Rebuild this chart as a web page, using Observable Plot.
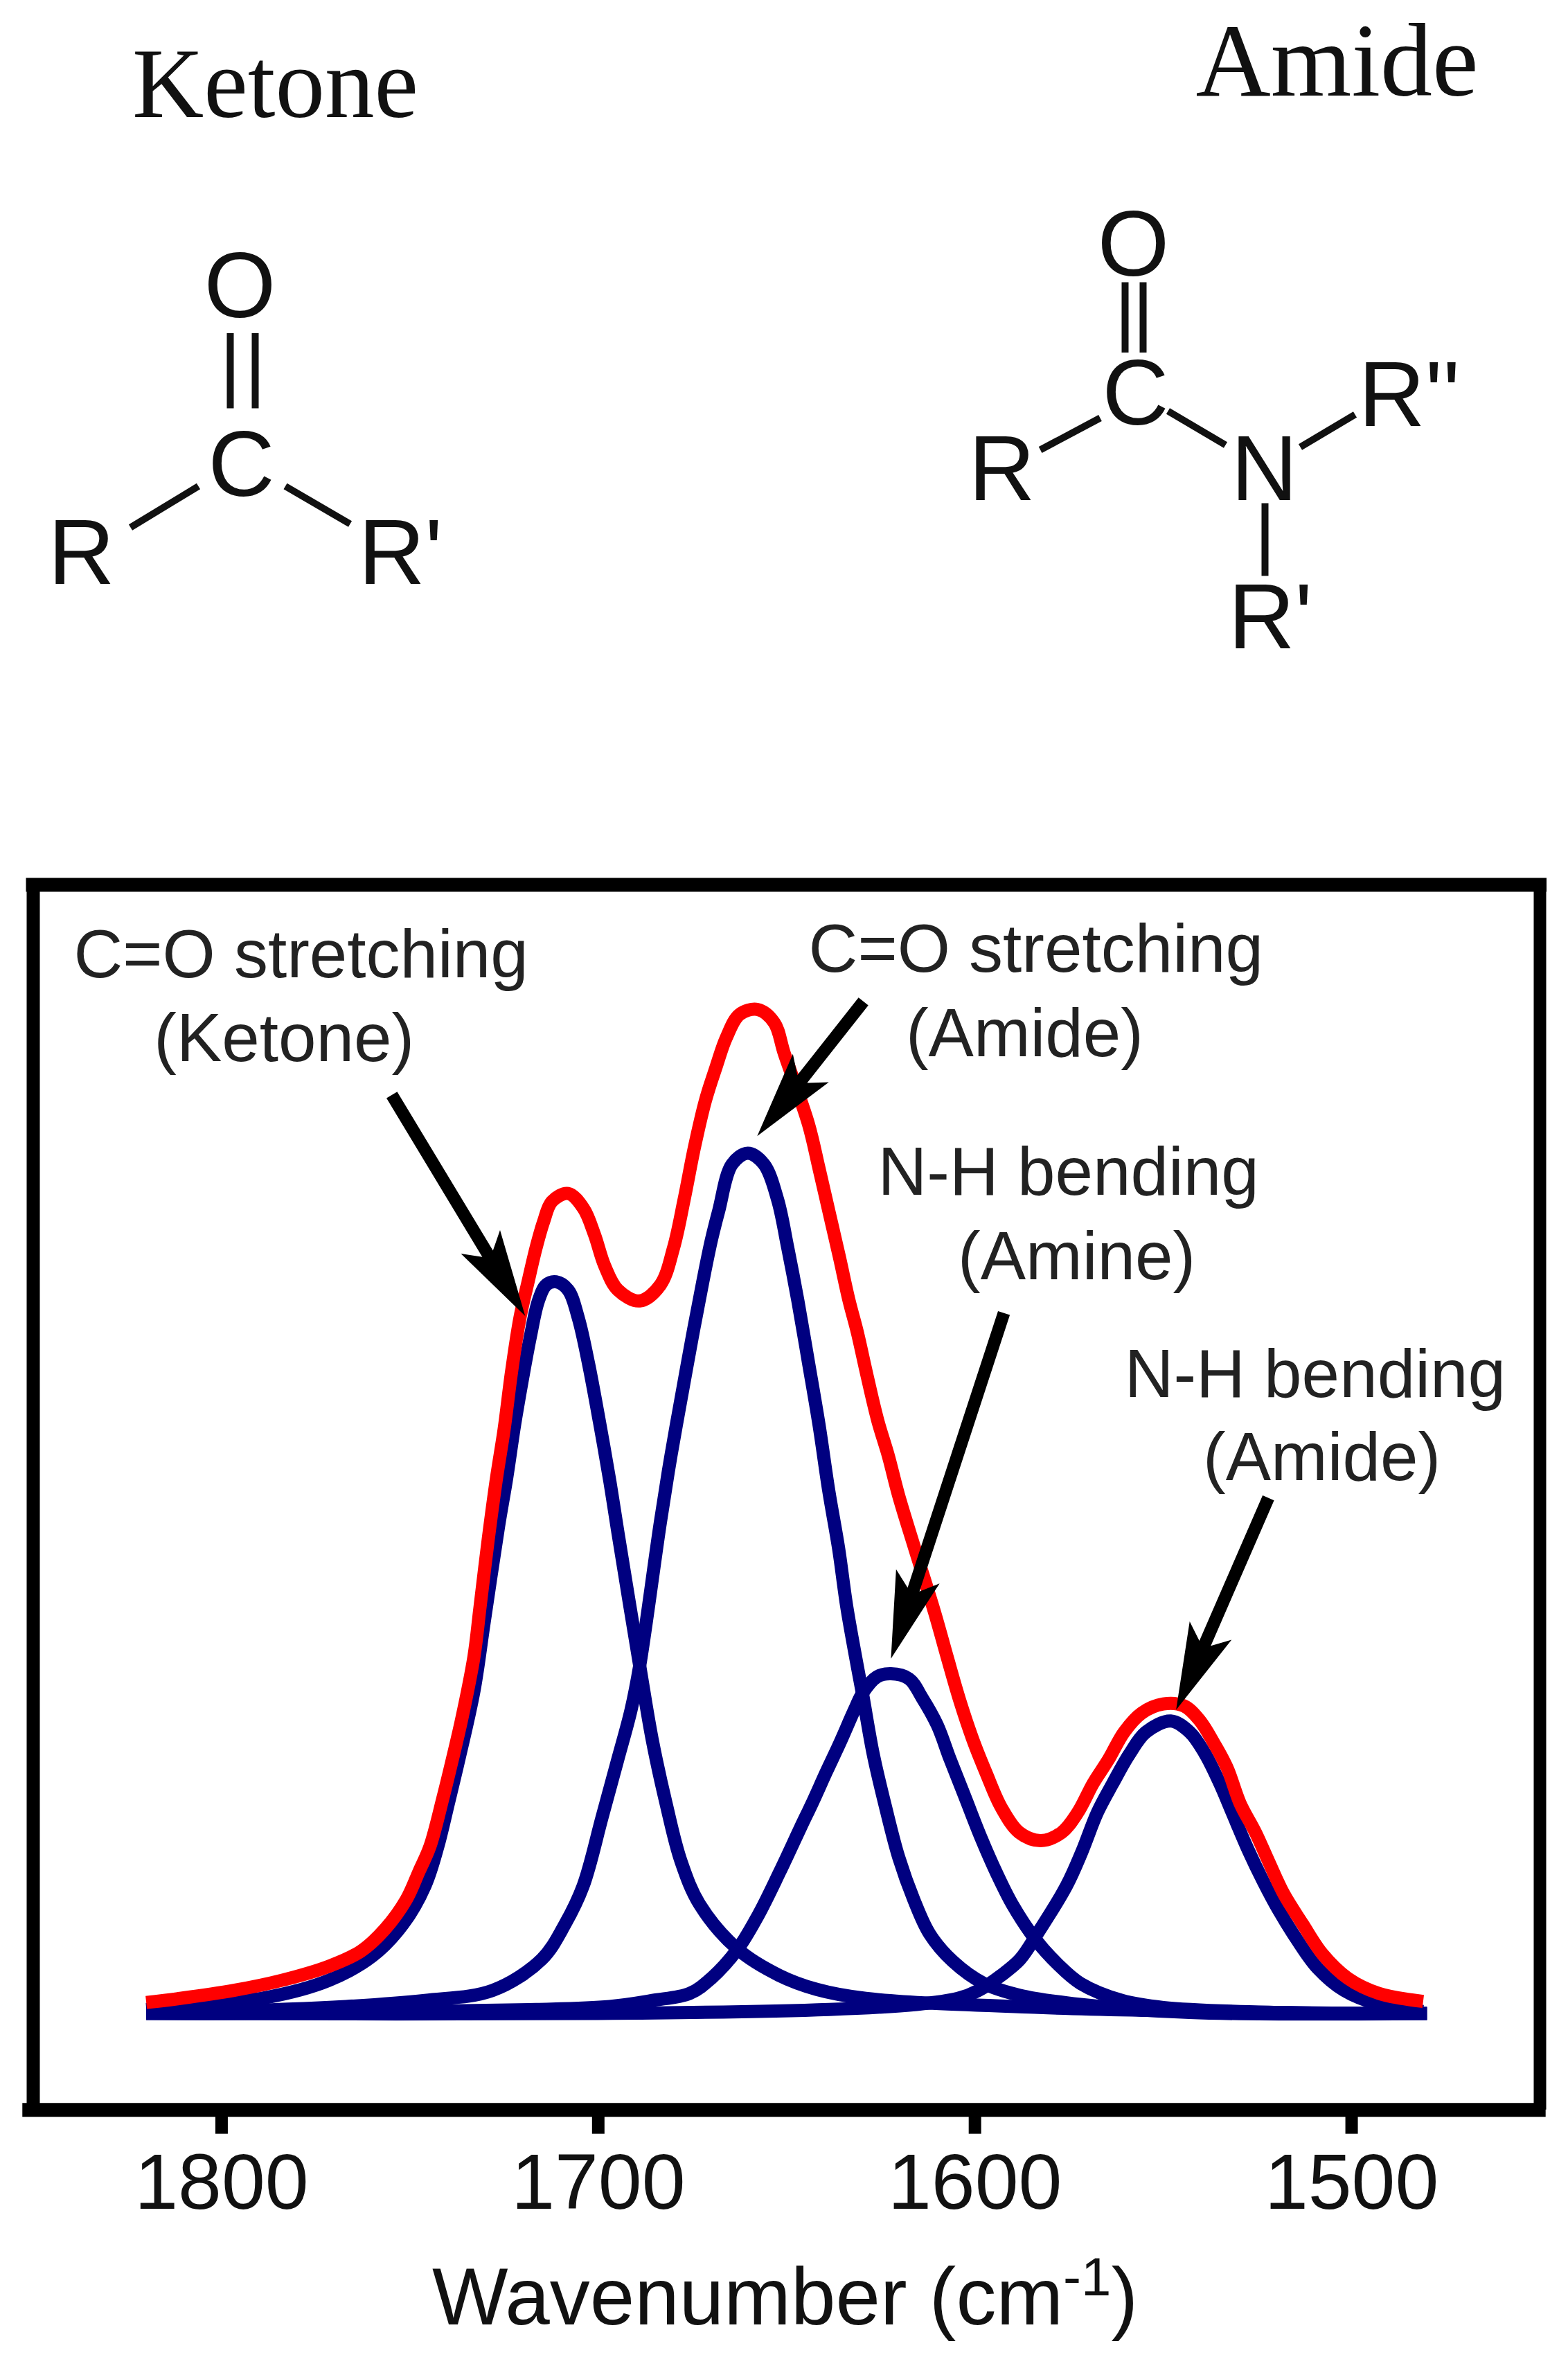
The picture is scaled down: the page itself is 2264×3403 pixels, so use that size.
<!DOCTYPE html>
<html>
<head>
<meta charset="utf-8">
<script src="https://cdn.jsdelivr.net/npm/d3@7"></script>
<script src="https://cdn.jsdelivr.net/npm/@observablehq/plot@0.6"></script>
<style>
html,body{margin:0;padding:0;background:#fff}
svg{display:block}
</style>
</head>
<body>
<div id="top"></div>
<div id="chart"></div>
<script>
// ---------- spectrum data: wavenumber (cm-1) and absorbance (a.u.) ----------
const ketoneWn  = [1820,1788,1771.5,1760,1751.8,1746,1742.6,1739.8,1737,1733,1730.3,1726.5,1724.3,1722.2,1720,1718,1715.9,1713.8,1711.2,1708,1705.3,1702.6,1699.7,1696.9,1694.8,1689,1685.7,1682,1678,1673,1663,1652,1642,1629,1583,1520,1480];
const ketoneAbs = [0.5,1.7,3.4,5.8,9,12.8,16.7,21,25.4,32.2,39,48.5,53.4,58.7,63.5,67.5,71,72.6,72.9,72.1,69.3,64.8,59,53,48,34.7,27.4,21,15.2,10.9,6.5,3.9,2.5,1.6,0.7,0.2,0.1];

const amideCOWn  = [1820,1802,1767,1746,1728,1715,1708.8,1704,1699,1694.8,1691.3,1689,1683.5,1680.7,1678,1675,1672.2,1670,1668,1664.5,1660.3,1656,1652.4,1649.7,1647,1644.2,1641.4,1638.8,1636.2,1634,1631.2,1629.8,1627,1623.7,1620.2,1616.2,1612,1605.9,1597.7,1588,1572,1543,1480];
const amideCOAbs = [0.2,0.3,0.8,1.4,2.4,5.5,9,12.8,19.6,25.4,30.3,34.7,49,55.6,61.3,67.5,73,77,80,84.6,85.7,84.6,81.1,76.3,71,64.9,58.7,52.1,46.4,40.5,34.6,31.8,25.9,20.6,15.6,11.4,8,5.3,3.1,1.9,1,0.2,0.1];

const amineWn  = [1820,1800,1716.5,1697,1685.6,1675.7,1670,1663,1657.5,1651.8,1646.3,1643,1639.5,1636,1632,1629.8,1626,1622.3,1617.5,1614,1610,1606.6,1602.6,1598.4,1594.3,1590,1584,1578,1572,1561,1550,1520,1480];
const amineAbs = [0.1,0.1,0.5,0.8,1.4,2.1,3.6,6.5,9.9,14.2,18.6,21.2,24.1,26.9,30.3,32,33.6,33.9,33.4,31.5,28.8,25.4,21.6,17.6,14.1,10.9,7.5,5,3.1,1.4,0.7,0.2,0.1];

const amideNHWn  = [1820,1700,1638.7,1615.5,1604.5,1599,1593,1588,1583.5,1575.7,1571.6,1567.5,1563.4,1559,1554.6,1548,1543,1539,1535,1531.6,1527.5,1523.4,1519.4,1514.6,1509,1502,1492.8,1481];
const amideNHAbs = [0.1,0.1,0.5,1,1.6,2.4,3.9,5.5,8,12.8,16.2,20.1,23,25.9,28.1,29.2,28.1,26,23,20,16.4,13.2,10.4,7.5,4.6,2.4,1,0.3];

const totalWn  = [1820,1811,1796.7,1784,1771.5,1763,1756.6,1751,1747.5,1744.7,1741.2,1738.4,1736.3,1733,1731.4,1729.2,1727,1725,1723,1720.8,1718.7,1716.5,1714.5,1712.3,1708,1703.9,1701,1698.3,1694.8,1689,1683.5,1680,1677.2,1674.4,1671.5,1668.7,1666,1662.5,1657.7,1653.3,1650.6,1644.2,1641.4,1638.7,1636,1633.4,1631.3,1628.6,1625.8,1623,1620.3,1616,1610.7,1607.4,1604,1600.6,1597,1593,1588.2,1582.6,1577,1572.7,1568.6,1564.5,1560.4,1555.7,1550,1544.5,1540.4,1536.4,1533,1529.6,1525.5,1522,1518,1513,1507.7,1501,1492.8,1481];
const totalAbs = [1.2,1.6,2.4,3.4,4.8,6.3,8.5,11.4,14.3,16.7,21.6,25.9,29.3,35.6,40.5,47.3,53.4,58.2,64,69.3,72.8,76.3,78.9,80.9,81.7,80.2,77.6,74.5,72.1,71,72.6,76.3,81.1,86.4,91,94.3,97.2,99.5,100,98.7,95.6,88.6,84.2,79.8,75.4,71,68,63.5,59.1,55.6,51.7,46.4,40,35.6,31.2,27.4,24,20.6,18.1,17.3,18.1,20.1,23,25.4,28.1,30,30.9,30.7,29.3,26.9,24.5,21,18.1,15.2,12,9,6,3.6,2.1,1.3];

const components = [[ketoneWn,ketoneAbs,"ketone"],[amideCOWn,amideCOAbs,"amideCO"],[amineWn,amineAbs,"amine"],[amideNHWn,amideNHAbs,"amideNH"]];
const componentRows = components.flatMap(([w,a,s]) => w.map((wn,i)=>({wn,abs:a[i],series:s})));
const totalRows = totalWn.map((wn,i)=>({wn,abs:totalAbs[i]}));

// ---------- annotations ----------
const calloutText = ["C=O stretching","(Ketone)","C=O stretching","(Amide)","N-H bending","(Amine)","N-H bending","(Amide)"];
const calloutWn   = [1778.9,1783.4,1583.8,1586.8,1575.2,1573,1509.7,1507.9];
const calloutAbs  = [105.4,97,105.9,97.5,83.7,75.3,63.6,55.3];
const callouts = calloutText.map((t,i)=>({t,wn:calloutWn[i],abs:calloutAbs[i]}));

const arrowTailWn  = [1754.8,1629.6,1592.3,1522.1];
const arrowTailAbs = [91.5,100.8,69.8,51.4];
const arrowTipWn   = [1719.4,1657.8,1622.3,1546.6];
const arrowTipAbs  = [69.5,87.4,35.4,30.3];

const tickValues = [1800,1700,1600,1500];
const axisTitle = "Wavenumber (cm-1)";

// ---------- structure diagrams (drawing units of the upper panel) ----------
const titleText = ["Ketone","Amide"];
const titleX = [397,1930];
const titleY = [168,137];

const centeredAtoms = ["O","C","O","C","N"];
const centeredX = [346,348,1636,1639,1825];
const centeredY = [457,715,397,612,721];

const leftAtoms = ["R","R'","R","R''","R'"];
const leftX = [69,517,1398,1961,1773];
const leftY = [842,842,721,614,935];

const bondX1 = [332,368,286,411.5,1624,1650,1501.6,1686,1877,1826];
const bondY1 = [480.5,480.5,701.5,701.5,407,407,649,593,645,726];
const bondX2 = [332,368,188,505,1624,1650,1588,1769,1956,1826];
const bondY2 = [589,589,761,756,508.6,508.6,603,642,598,831];

const font = "'Liberation Sans', Arial, sans-serif";
const atomSize = 133;
const calloutSize = 98;
const titleSizes = [143,150];

// ---------- upper panel ----------
const topH = 1250;
const topPlot = Plot.plot({
  width: 2264, height: topH, margin: 0,
  style: {fontFamily: font, background: "#fff", color: "#111"},
  x: {domain: [0,2264], range: [0,2264], axis: null},
  y: {domain: [0,topH], range: [0,topH], axis: null},
  marks: [
    Plot.link(bondX1, {x1: (d,i)=>bondX1[i], y1: (d,i)=>bondY1[i], x2: (d,i)=>bondX2[i], y2: (d,i)=>bondY2[i], stroke: "#111", strokeWidth: 10, strokeLinecap: "butt"}),
    ...titleText.map((t,i)=>Plot.text([t], {x: titleX[i], y: titleY[i], text: d=>d, fontFamily: "'Liberation Serif', serif", fontSize: titleSizes[i], fill: "#111", dy: -0.32*titleSizes[i], textAnchor: "middle"})),
    Plot.text(centeredAtoms, {x: (d,i)=>centeredX[i], y: (d,i)=>centeredY[i], text: d=>d, fontSize: atomSize, fill: "#111", dy: -0.32*atomSize, textAnchor: "middle"}),
    Plot.text(leftAtoms, {x: (d,i)=>leftX[i], y: (d,i)=>leftY[i], text: d=>d, fontSize: atomSize, fill: "#111", dy: -0.32*atomSize, textAnchor: "start"})
  ]
});
document.getElementById("top").append(topPlot);

// ---------- spectrum ----------
const H = 3403 - topH;
const xOpt = {domain: [1850,1450], range: [47.5,2223]};
const yOpt = {domain: [0,100], range: [2908-topH,1457-topH]};
const sx = Plot.scale({x: xOpt});
const sy = Plot.scale({y: yOpt});
const arrows = arrowTailWn.map((wn,i)=>{
  const dx = sx.apply(arrowTipWn[i]) - sx.apply(wn);
  const dy = sy.apply(arrowTipAbs[i]) - sy.apply(arrowTailAbs[i]);
  return {wn, abs: arrowTailAbs[i], len: Math.hypot(dx,dy), rot: Math.atan2(dx,-dy)*180/Math.PI};
});
const arrowShape = {
  draw(ctx, l) {
    const shaft = 9, notch = 105, back = 125, wing = 33;
    ctx.moveTo(-shaft, 0);
    ctx.lineTo(-shaft, -l + notch);
    ctx.lineTo(-wing, -l + back);
    ctx.lineTo(0, -l);
    ctx.lineTo(wing, -l + back);
    ctx.lineTo(shaft, -l + notch);
    ctx.lineTo(shaft, 0);
    ctx.closePath();
  }
};
const frameTop = 112.4, frameBottom = -9.5, frameLeft = 1850, frameRight = 1450;
const tickTop = -10.2, tickBottom = -11.9;

const chart = Plot.plot({
  width: 2264, height: H,
  marginTop: 0, marginLeft: 0, marginRight: 0, marginBottom: 3403-3056,
  style: {fontFamily: font, background: "#fff", color: "#111"},
  x: {...xOpt, axis: null},
  y: {...yOpt, axis: null},
  length: {type: "identity"},
  marks: [
    Plot.ruleY([frameTop], {x1: frameLeft, x2: frameRight, stroke: "#000", strokeWidth: 20, strokeLinecap: "square"}),
    Plot.ruleX([frameLeft], {y1: frameBottom, y2: frameTop, stroke: "#000", strokeWidth: 19}),
    Plot.ruleX([frameRight], {y1: frameBottom, y2: frameTop, stroke: "#000", strokeWidth: 18}),
    Plot.ruleY([frameBottom], {x1: 1852.8, x2: 1448.4, stroke: "#000", strokeWidth: 20}),
    Plot.ruleX(tickValues, {y1: tickTop, y2: tickBottom, stroke: "#000", strokeWidth: 18}),
    Plot.axisX({ticks: tickValues, tickFormat: "d", tickSize: 0, tickPadding: 52, fontSize: 113, fill: "#111", label: null, anchor: "bottom"}),
    Plot.line(componentRows, {x: "wn", y: "abs", z: "series", curve: "catmull-rom", stroke: "#000080", strokeWidth: 19, strokeLinecap: "butt"}),
    Plot.line(totalRows, {x: "wn", y: "abs", curve: "catmull-rom", stroke: "#ff0000", strokeWidth: 19, strokeLinecap: "butt"}),
    Plot.vector(arrows, {x: "wn", y: "abs", length: "len", rotate: "rot", anchor: "start", shape: arrowShape, fill: "#000", stroke: "none"}),
    Plot.text(callouts, {x: "wn", y: "abs", text: "t", fontSize: calloutSize, fill: "#222", textAnchor: "middle"}),
    Plot.text([axisTitle], {x: 1650.4, y: -28.3, text: d=>d, fontSize: 116, fill: "#111", textAnchor: "middle", className: "axis-title"})
  ]
});
// typeset the superscript of the axis title inside its one text element
const titleEl = chart.querySelector(".axis-title text");
if (titleEl) {
  const ns = "http://www.w3.org/2000/svg";
  titleEl.textContent = "";
  const parts = [["Wavenumber (cm",null],["-1",-42],[")",42]];
  for (const [s,shift] of parts) {
    const t = document.createElementNS(ns,"tspan");
    t.textContent = s;
    if (shift !== null) t.setAttribute("dy", shift);
    if (s === "-1") t.setAttribute("font-size", 78);
    titleEl.append(t);
  }
}
document.getElementById("chart").append(chart);
</script>
</body>
</html>
